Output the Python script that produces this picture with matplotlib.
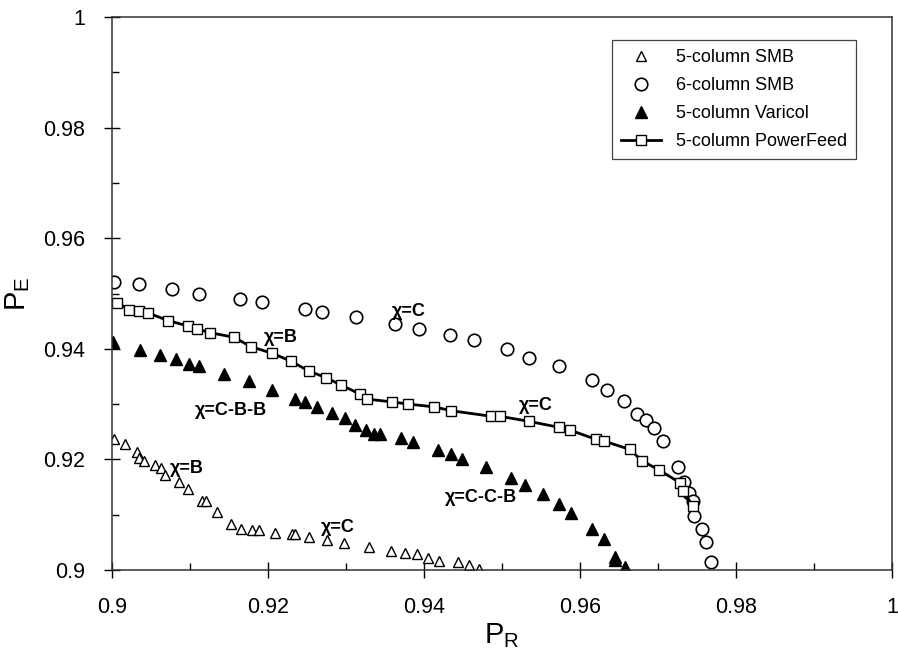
import matplotlib
matplotlib.use("Agg")
from matplotlib import pyplot as plt
from matplotlib.ticker import MultipleLocator

plt.rcParams['font.family'] = ['Liberation Sans', 'DejaVu Sans']

# 5-column SMB
smb5_r = [0.9002, 0.9017, 0.9032, 0.9035, 0.9041, 0.9055, 0.9063, 0.9068, 0.9086,
          0.9098, 0.9115, 0.9120, 0.9134, 0.9152, 0.9166, 0.9179, 0.9188, 0.9209,
          0.9231, 0.9234, 0.9253, 0.9275, 0.9298, 0.9330, 0.9358, 0.9376, 0.9391,
          0.9405, 0.9419, 0.9444, 0.9458, 0.9470]
smb5_e = [0.9236, 0.9228, 0.9214, 0.9203, 0.9198, 0.9190, 0.9185, 0.9172, 0.9160,
          0.9146, 0.9125, 0.9124, 0.9104, 0.9084, 0.9074, 0.9072, 0.9072, 0.9067,
          0.9065, 0.9065, 0.9060, 0.9054, 0.9048, 0.9042, 0.9035, 0.9030, 0.9029,
          0.9021, 0.9017, 0.9015, 0.9009, 0.9002]

# 6-column SMB
smb6_r = [0.9002, 0.9034, 0.9077, 0.9112, 0.9164, 0.9192, 0.9248, 0.9269, 0.9313,
          0.9363, 0.9393, 0.9433, 0.9464, 0.9507, 0.9534, 0.9573, 0.9616, 0.9635,
          0.9657, 0.9673, 0.9684, 0.9695, 0.9706, 0.9725, 0.9733, 0.9740, 0.9745,
          0.9746, 0.9756, 0.9762, 0.9768]
smb6_e = [0.9521, 0.9517, 0.9508, 0.9499, 0.9490, 0.9485, 0.9472, 0.9467, 0.9457,
          0.9445, 0.9436, 0.9425, 0.9416, 0.9399, 0.9383, 0.9369, 0.9344, 0.9325,
          0.9306, 0.9282, 0.9271, 0.9256, 0.9233, 0.9186, 0.9160, 0.9140, 0.9124,
          0.9098, 0.9074, 0.9050, 0.9015]

# 5-column Varicol
var_r = [0.9001, 0.9036, 0.9062, 0.9082, 0.9099, 0.9112, 0.9143, 0.9175, 0.9205,
         0.9235, 0.9247, 0.9263, 0.9282, 0.9299, 0.9312, 0.9325, 0.9336, 0.9344,
         0.9371, 0.9386, 0.9418, 0.9434, 0.9449, 0.9479, 0.9511, 0.9530, 0.9552,
         0.9573, 0.9588, 0.9616, 0.9631, 0.9645, 0.9645, 0.9658]
var_e = [0.9413, 0.9397, 0.9388, 0.9382, 0.9372, 0.9368, 0.9354, 0.9342, 0.9325,
         0.9310, 0.9303, 0.9294, 0.9284, 0.9274, 0.9262, 0.9253, 0.9246, 0.9246,
         0.9238, 0.9231, 0.9217, 0.9210, 0.9201, 0.9187, 0.9166, 0.9154, 0.9137,
         0.9119, 0.9103, 0.9074, 0.9056, 0.9024, 0.9018, 0.9005]

# 5-column PowerFeed
pf_r = [0.9007, 0.9022, 0.9035, 0.9046, 0.9072, 0.9098, 0.9109, 0.9126, 0.9156,
        0.9178, 0.9205, 0.9229, 0.9252, 0.9274, 0.9293, 0.9318, 0.9327, 0.9359,
        0.9380, 0.9413, 0.9435, 0.9486, 0.9497, 0.9534, 0.9573, 0.9587, 0.9621,
        0.9631, 0.9664, 0.9679, 0.9701, 0.9728, 0.9732, 0.9745]
pf_e = [0.9483, 0.9471, 0.9469, 0.9465, 0.9451, 0.9441, 0.9436, 0.9429, 0.9421,
        0.9404, 0.9392, 0.9378, 0.9360, 0.9348, 0.9335, 0.9318, 0.9309, 0.9304,
        0.9300, 0.9295, 0.9288, 0.9278, 0.9278, 0.9269, 0.9258, 0.9253, 0.9236,
        0.9233, 0.9218, 0.9198, 0.9181, 0.9158, 0.9142, 0.9116]

# chi labels and where they sit
chi_text = ["χ=B", "χ=C", "χ=C-B-B", "χ=B", "χ=C", "χ=C", "χ=C-C-B"]
chi_x = [0.9217, 0.9381, 0.9153, 0.9096, 0.9289, 0.9543, 0.9473]
chi_y = [0.9420, 0.9467, 0.9289, 0.9184, 0.9076, 0.9298, 0.9132]

fig = plt.figure(figsize=(8.98, 6.66), dpi=100)
ax = fig.add_axes([112 / 898, 96 / 666, 780 / 898, 553 / 666])

ax.plot(smb5_r, smb5_e, linestyle='none', marker='^', markersize=7,
        mfc='white', mec='black', mew=1.0, label="5-column SMB")
ax.plot(smb6_r, smb6_e, linestyle='none', marker='o', markersize=9,
        mfc='white', mec='black', mew=1.2, label="6-column SMB")
ax.plot(var_r, var_e, linestyle='none', marker='^', markersize=8,
        color='black', label="5-column Varicol")
ax.plot(pf_r, pf_e, color='black', linewidth=2, marker='s', markersize=6.5,
        mfc='white', mec='black', mew=1.0, label="5-column PowerFeed")

for t, x, y in zip(chi_text, chi_x, chi_y):
    ax.text(x, y, t, ha='center', va='center', fontsize=13, fontweight='bold')

ax.set_xlim(0.9, 1.0)
ax.set_ylim(0.9, 1.0)
ax.xaxis.set_major_locator(MultipleLocator(0.02))
ax.yaxis.set_major_locator(MultipleLocator(0.02))
ax.xaxis.set_minor_locator(MultipleLocator(0.01))
ax.yaxis.set_minor_locator(MultipleLocator(0.01))
ax.xaxis.set_major_formatter(plt.FuncFormatter(lambda v, p: f"{v:g}"))
ax.yaxis.set_major_formatter(plt.FuncFormatter(lambda v, p: f"{v:g}"))
ax.tick_params(which='major', direction='inout', length=11, width=1,
               labelsize=15.5)
ax.tick_params(axis='x', which='major', pad=14)
ax.tick_params(axis='y', which='major', pad=14)
ax.tick_params(which='minor', direction='in', length=5, width=1)
for s in ax.spines.values():
    s.set_linewidth(1.1)
    s.set_color('#333333')

ax.set_xlabel(r"$\mathregular{P_R}$", fontsize=21, labelpad=2)
ax.set_ylabel(r"$\mathregular{P_E}$", fontsize=21, labelpad=8)

leg = ax.legend(loc='upper right', bbox_to_anchor=(0.965, 0.975), fontsize=13,
                fancybox=False, edgecolor='#444444', framealpha=1,
                handlelength=2.2, labelspacing=0.62, borderpad=0.5)
leg.get_frame().set_linewidth(0.9)

fig.savefig("out.png", dpi=100)
